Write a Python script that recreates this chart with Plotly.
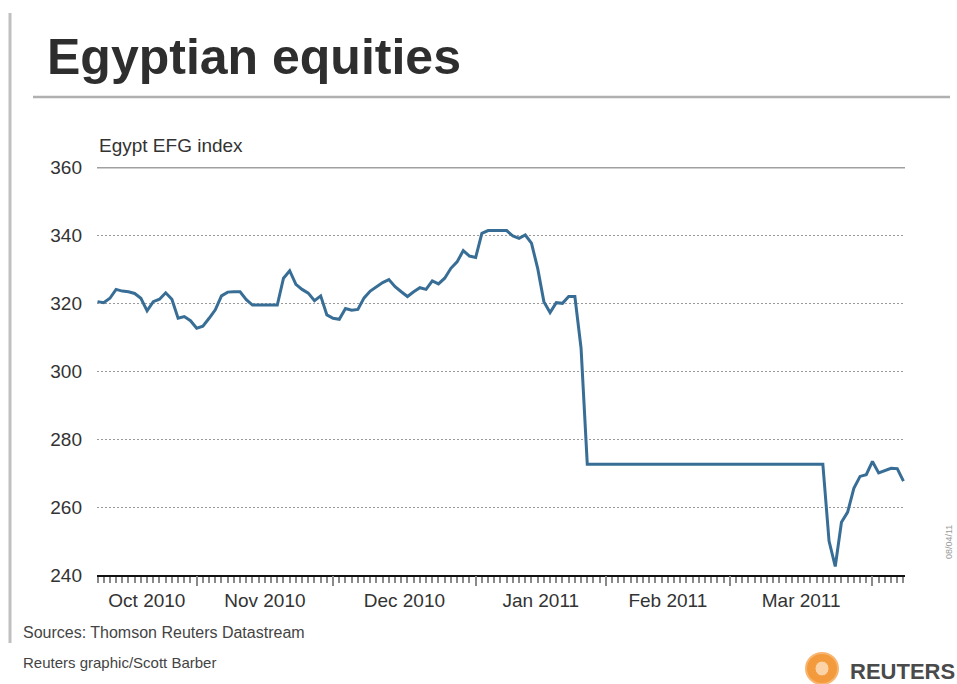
import pandas as pd
import plotly.graph_objects as go

# ---- data (Egypt EFG index, weekday series) ----
start_date = "2010-10-08"
end_date = "2011-04-08"
values = [
    320.4, 320.1, 321.4, 324.0, 323.5, 323.3, 322.8, 321.4, 317.7, 320.4,
    321.1, 323.0, 321.1, 315.5, 316.0, 314.8, 312.6, 313.2, 315.5, 318.0,
    322.1, 323.2, 323.3, 323.3, 321.0, 319.4, 319.4, 319.4, 319.4, 319.4,
    327.3, 329.5, 325.5, 324.0, 322.9, 320.7, 322.1, 316.5, 315.5, 315.2,
    318.4, 317.9, 318.1, 321.5, 323.5, 324.8, 326.0, 326.9, 324.8, 323.3,
    321.9, 323.3, 324.5, 324.0, 326.5, 325.6, 327.3, 330.2, 332.1, 335.4,
    333.8, 333.4, 340.5, 341.3, 341.3, 341.3, 341.3, 339.7, 339.0, 340.0,
    337.6, 330.2, 320.4, 317.2, 320.1, 319.9, 321.9, 321.9, 306.7, 272.6,
    272.6, 272.6, 272.6, 272.6, 272.6, 272.6, 272.6, 272.6, 272.6, 272.6,
    272.6, 272.6, 272.6, 272.6, 272.6, 272.6, 272.6, 272.6, 272.6, 272.6,
    272.6, 272.6, 272.6, 272.6, 272.6, 272.6, 272.6, 272.6, 272.6, 272.6,
    272.6, 272.6, 272.6, 272.6, 272.6, 272.6, 272.6, 272.6,
    250.0, 242.5, 255.5, 258.5, 265.5, 269.0, 269.5, 273.4, 270.0, 270.8,
    271.4, 271.3, 267.6,
]
month_starts = ["2010-11-01", "2010-12-01", "2011-01-03", "2011-02-01",
                "2011-03-01", "2011-04-01"]
month_labels = ["Oct 2010", "Nov 2010", "Dec 2010", "Jan 2011", "Feb 2011",
                "Mar 2011"]
y_ticks = [240, 260, 280, 300, 320, 340, 360]

# ---- derived positions (weekday index axis) ----
dates = pd.bdate_range(start_date, end_date)
n = min(len(dates), len(values))
idx = list(range(n))
x_lo, x_hi = -0.08, n - 1 + 0.25
ms_idx = [int(dates.searchsorted(pd.Timestamp(d))) for d in month_starts]
bounds = [x_lo] + ms_idx
label_pos = [(bounds[k] + bounds[k + 1]) / 2 for k in range(len(month_labels))]

L, R, T, B = 97, 52, 167, 109
W, H = 957, 684
PW, PH = W - L - R, H - T - B


def px(xp):
    return (xp - L) / PW


def py(yp):
    return (H - B - yp) / PH


FONT = "Liberation Sans, Arial, sans-serif"
TXT = "#333333"

fig = go.Figure()
fig.add_trace(go.Scatter(
    x=idx, y=values[:n], mode="lines",
    line=dict(color="#386e96", width=3),
    hoverinfo="skip", showlegend=False,
))
# invisible trace to carry the month-boundary tick axis
fig.add_trace(go.Scatter(
    x=idx, y=values[:n], xaxis="x2", mode="lines",
    line=dict(color="rgba(0,0,0,0)", width=0),
    hoverinfo="skip", showlegend=False,
))

fig.update_layout(
    width=W, height=H,
    margin=dict(l=L, r=R, t=T, b=B),
    paper_bgcolor="white", plot_bgcolor="white",
    font=dict(family=FONT, color=TXT, size=19),
    title=dict(
        text="<b>Egyptian equities</b>",
        font=dict(family=FONT, size=50, color="#2e2e2e"),
        x=47 / W, xanchor="left", xref="container",
        y=1 - 56 / H, yanchor="middle", yref="container",
    ),
    xaxis=dict(
        range=[x_lo, x_hi],
        tickmode="array", tickvals=label_pos, ticktext=month_labels,
        ticks="", ticklabelstandoff=7,
        tickfont=dict(size=19, color=TXT),
        showgrid=False, zeroline=False,
        showline=True, linecolor="#111111", linewidth=2,
        minor=dict(tickmode="array", tickvals=idx, ticks="outside",
                   ticklen=6, tickwidth=2, tickcolor="#8a8a8a",
                   showgrid=False),
    ),
    xaxis2=dict(
        range=[x_lo, x_hi], overlaying="x", side="bottom",
        tickmode="array", tickvals=ms_idx, ticks="outside",
        ticklen=10, tickwidth=2, tickcolor="#8a8a8a",
        showticklabels=False, showgrid=False, zeroline=False,
        showline=False,
    ),
    yaxis=dict(
        range=[240, 360], tickmode="array", tickvals=y_ticks,
        ticks="", ticklabelstandoff=14,
        tickfont=dict(size=19, color=TXT),
        showgrid=True, gridcolor="#9a9a9a", gridwidth=1,
        griddash="2px,2px",
        zeroline=False, showline=False,
    ),
    shapes=[
        # solid top rule at 360
        dict(type="line", xref="paper", yref="y", x0=0, x1=1,
             y0=360, y1=360, line=dict(color="#a0a0a0", width=3)),
        # rule under the headline
        dict(type="line", xref="paper", yref="paper",
             x0=px(33), x1=px(950), y0=py(97), y1=py(97),
             line=dict(color="#b0b0b0", width=2.5)),
        # vertical rule on the left edge
        dict(type="line", xref="paper", yref="paper",
             x0=px(10), x1=px(10), y0=py(13), y1=py(643),
             line=dict(color="#c0c0c0", width=3)),
        # Reuters logo mark
        dict(type="circle", xref="paper", yref="paper",
             x0=px(806), x1=px(838), y0=py(684), y1=py(653),
             fillcolor="#f39a3c", line=dict(color="#f7b570", width=2)),
        dict(type="circle", xref="paper", yref="paper",
             x0=px(815), x1=px(829), y0=py(676), y1=py(661),
             fillcolor="#fbd3a6", line=dict(color="#f39a3c", width=1)),
    ],
    annotations=[
        dict(text="Egypt EFG index", xref="paper", yref="paper",
             x=px(97), y=py(145), xanchor="left", yanchor="middle",
             showarrow=False, font=dict(size=19, color=TXT)),
        dict(text="Sources: Thomson Reuters Datastream", xref="paper",
             yref="paper", x=px(21), y=py(632), xanchor="left",
             yanchor="middle", showarrow=False,
             font=dict(size=16, color="#444444")),
        dict(text="Reuters graphic/Scott Barber", xref="paper",
             yref="paper", x=px(21), y=py(662), xanchor="left",
             yanchor="middle", showarrow=False,
             font=dict(size=15, color="#444444")),
        dict(text="<b>REUTERS</b>", xref="paper", yref="paper",
             x=px(848), y=py(671), xanchor="left", yanchor="middle",
             showarrow=False, font=dict(size=22, color="#4a4a4a")),
        dict(text="08/04/11", xref="paper", yref="paper",
             x=px(949), y=py(542), xanchor="center", yanchor="middle",
             textangle=-90, showarrow=False,
             font=dict(size=9, color="#9a9a9a")),
    ],
)

fig.write_html("out.html",
               config={"displayModeBar": False},
               post_script="document.body.style.margin='0px';"
                           "document.body.style.padding='0px';")
